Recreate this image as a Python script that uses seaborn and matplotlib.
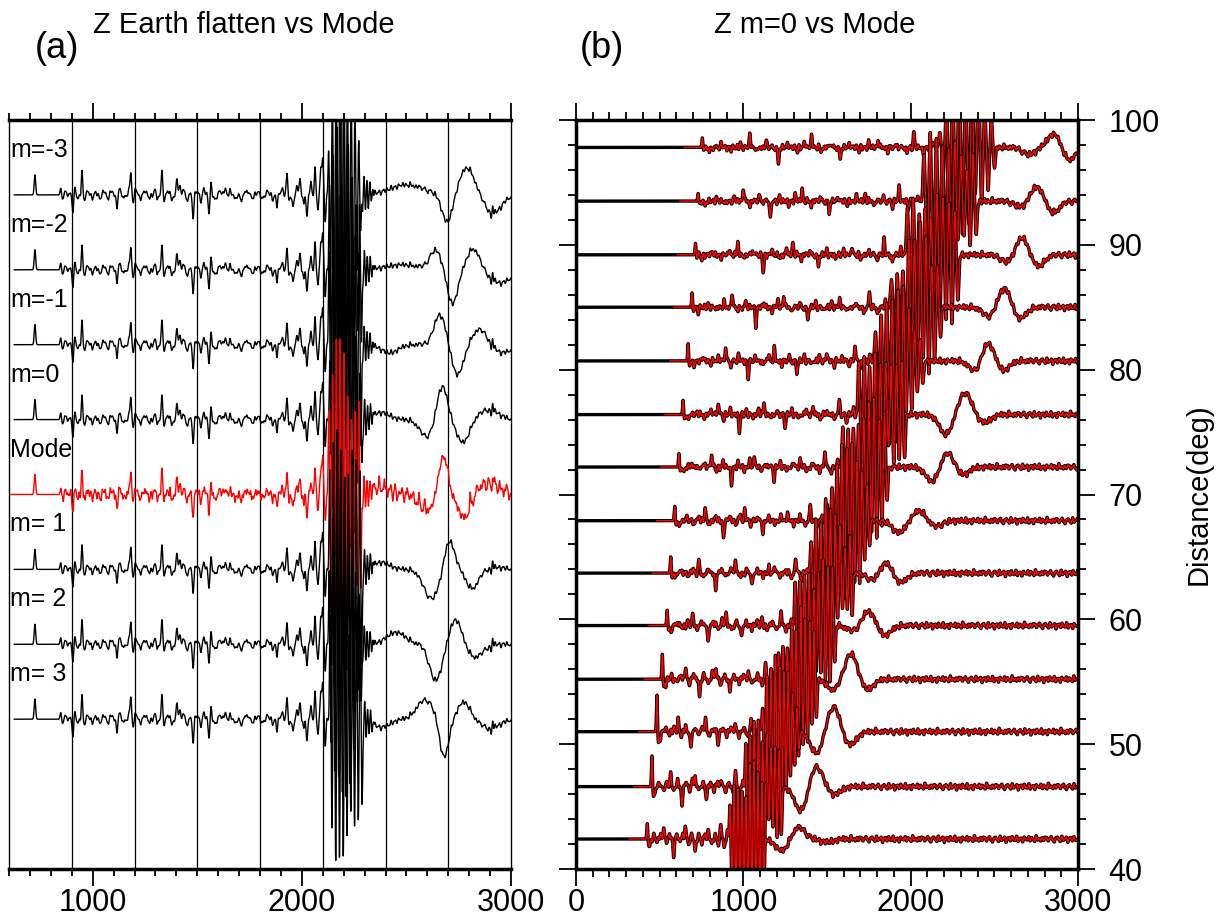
import numpy as np
import pandas as pd
import matplotlib
matplotlib.use("Agg")
import matplotlib.pyplot as plt
import seaborn as sns

# -----------------------------
# Panel (a): traces, offsets and features
# amplitudes are in screen pixels (converted below), times in s
# -----------------------------
a_labels = ["m=-3", "m=-2", "m=-1", "m=0", "Mode", "m= 1", "m= 2", "m= 3"]
a_offsets = [8, 7, 6, 5, 4, 3, 2, 1]
a_start = [624, 624, 624, 624, 600, 624, 624, 624]

# spikes / wiggles before the big surface-wave packet (shared by all traces)
a_ev_t = [724, 849, 856, 873, 905, 915, 930, 949, 958, 978, 997, 1016, 1035, 1054,
          1073, 1092, 1116, 1130, 1150, 1174, 1183, 1193, 1207, 1226, 1250, 1274,
          1298, 1312, 1331, 1341, 1360, 1379, 1403, 1417, 1432, 1451, 1480, 1499,
          1518, 1532, 1556, 1566, 1585, 1609, 1633, 1656, 1685, 1709, 1738, 1762,
          1790, 1814, 1838, 1862, 1881, 1905, 1929, 1943, 1958, 1977, 1991, 2010,
          2024, 2044, 2063, 2077, 2091, 2100, 2112]
a_ev_amp = [20, 8, -5, 4, -17, 5, -4, 25, -6, 4, -3, 3, -4, 4,
            -3, 4, -13, 5, -4, 6, 20, -6, 6, -3, 4, -3,
            5, -4, 25, -5, 5, -5, 17, 8, 5, -4, -22, 4,
            -5, 6, -18, 10, -5, 4, 6, 3, -4, -6, 6, -3,
            3, -4, 4, -4, -10, 6, 22, -6, -12, 10, 15, -10,
            -20, 12, 25, -15, 30, 35, -25]

# big surface-wave packet: half-cycle amplitudes (fraction of peak) and its timing
a_pkt_start, a_pkt_half, a_pkt_amp = 2128, 9.0, 150
a_pkt_shape = [0.3, 0.5, 0.7, 0.85, 1.0, 0.85, 1.1, 0.95, 1.0, 1.05, 0.8, 1.0,
               0.75, 0.9, 0.6, 0.5, 0.35, 0.25]
a_pkt_lag = [0, 4, 2, 6, 1, 5, 3, 7]
a_pkt_shift = [0, 3, 7, 1, 5, 9, 2, 6]
# fast ripple right after the packet
a_rip_t = [2290, 2297, 2304, 2311, 2318, 2325, 2332, 2339]
a_rip_amp = [-16, 17, -16, 15, -13, 11, -8, 5]

# long-period humps after the packet, one list per trace
a_lp_t = [[2500, 2695, 2790, 2915],
          [2480, 2640, 2720, 2820, 2950],
          [2420, 2660, 2745, 2850, 2960],
          [2380, 2598, 2670, 2770, 2895],
          [2380, 2600, 2675, 2775, 2900],
          [2380, 2620, 2705, 2815, 2930],
          [2450, 2640, 2735, 2830],
          [2380, 2590, 2680, 2775, 2900]]
a_lp_amp = [[10, -28, 27, -18],
            [5, 19, -34, 21, -13],
            [-8, 30, -30, 15, -8],
            [7, -17, 35, -23, 10],
            [7, -16, 39, -23, 11],
            [7, -29, 30, -19, 2],
            [12, -36, 25, -13],
            [-8, 19, -39, 17, -9]]
a_lp_w = [[80, 25, 35, 40],
          [80, 28, 25, 30, 50],
          [40, 28, 28, 35, 40],
          [40, 35, 25, 30, 45],
          [40, 35, 22, 28, 50],
          [40, 38, 25, 30, 40],
          [45, 30, 28, 35],
          [40, 40, 22, 30, 45]]
a_late_t = [2905, 2912]
a_late_amp = [-8, 8]

# extra high-frequency noise on the Mode trace tail
mode_noise_t = [2345, 2358, 2370, 2383, 2396, 2409, 2421, 2434, 2447, 2460, 2476, 2490,
                2503, 2518, 2531, 2546, 2560, 2574, 2588, 2700, 2714, 2790, 2805,
                2820, 2838, 2851, 2866, 2880, 2893, 2908, 2921, 2936, 2950, 2964, 2978, 2992]
mode_noise_amp = [6, -5, 7, -4, 5, -6, 4, -5, 6, -4, 5, -6, 7, -5, 4, -7, 6, -5, 8,
                  5, -6, -5, 6, -6, 5, -4, 7, -5, 6, -4, 5, -6, 4, -5, 6, -5]

# small background wiggle, in px, laid every few seconds along the traces
jitter = [1.5, -2.0, 0.5, 2.5, -1.0, -3.0, 1.0, 2.0, -0.5, -2.5, 3.0, -1.5, 0.0, 2.0,
          -3.5, 1.0, 1.5, -2.0, 2.5, -1.0, -1.5, 3.0, -2.5, 0.5, 1.0, -3.0, 2.0, 0.0,
          -1.0, 2.5, -2.0, 1.5, -0.5, -2.5, 3.5, -1.0, 0.5, -2.0, 1.5, -1.5, 2.0]

# -----------------------------
# Panel (b): one row per epicentral distance (deg)
# -----------------------------
b_dist = [97.8, 93.5, 89.2, 85.0, 80.7, 76.4, 72.2, 67.9, 63.7, 59.5, 55.2, 51.0, 46.6, 42.4]
b_p_time = [755, 730, 714, 694, 670, 640, 615, 590, 566, 545, 516, 484, 454, 426]
b_p_amp = [10, 8, 12, 15, 18, 15, 14, 15, 17, 16, 26, 38, 32, 16]
b_pkt_start = [2175, 2080, 1980, 1885, 1790, 1690, 1595, 1500, 1405, 1310, 1210, 1115, 1015, 920]
b_pkt_end = [2520, 2410, 2300, 2195, 2090, 1980, 1875, 1770, 1665, 1560, 1450, 1345, 1240, 1135]
b_pkt_amp = [80, 80, 80, 80, 80, 80, 80, 80, 80, 80, 80, 80, 80, 85]
b_pkt_shape = [0.2, 0.35, 0.55, 0.8, 0.6, 1.0, 0.85, 1.1, 0.7, 0.95, 1.0, 0.6, 0.85,
               0.7, 0.45, 0.55, 0.35, 0.25]
b_lp_t = [[2708, 2857, 2947], [2660, 2755, 2850], [2580, 2665, 2760], [2470, 2560, 2650],
          [2390, 2460, 2550], [2210, 2325, 2440], [2130, 2220, 2310], [1930, 2050, 2150],
          [1780, 1850, 1937], [1660, 1747, 1843], [1539, 1644, 1737], [1439, 1539, 1635],
          [1345, 1435, 1542], [1232, 1329, 1500]]
b_lp_amp = [[-7, 14, -13], [-6, 15, -12], [-8, 18, -12], [-10, 20, -12],
            [-12, 20, -10], [-20, 22, -8], [-15, 15, -8], [-12, 10, -6],
            [-8, 12, -10], [-6, 15, -10], [-11, 26, -11], [-22, 26, -14],
            [-25, 21, -8], [-12, 12, -3]]

# coda between P and the packet: position as a fraction of that interval, amplitude (px)
coda_frac = [0.03, 0.08, 0.12, 0.16, 0.20, 0.23, 0.27, 0.32, 0.36, 0.40, 0.43, 0.46, 0.50,
             0.54, 0.58, 0.62, 0.66, 0.70, 0.74, 0.78, 0.82, 0.86, 0.89, 0.93, 0.97]
coda_amp = [-6, 4, -3, 5, 13, -5, 6, -18, 5, -4, 7, 12, -5,
            4, -13, 5, -4, 6, 8, -5, 4, -6, 15, -8, 6]


def bump(t, t0, w):
    return np.exp(-0.5 * ((t - t0) / w) ** 2)


def add_jitter(t, y, t_from, step, w, scale, shift):
    for k, t0 in enumerate(np.arange(t_from, t[-1], step)):
        y += scale * jitter[(k + shift) % len(jitter)] * bump(t, t0, w)


# -----------------------------
# Figure
# -----------------------------
sns.set_style("ticks")
plt.rcParams['font.family'] = ['Liberation Sans', 'DejaVu Sans']
plt.rcParams.update({'text.color': 'black', 'axes.edgecolor': 'black',
                     'xtick.color': 'black', 'ytick.color': 'black',
                     'axes.labelcolor': 'black'})

W, H = 1225, 922
fig = plt.figure(figsize=(W / 100, H / 100), dpi=100)
ax_a = fig.add_axes([9 / W, 1 - 869 / H, 502 / W, 749 / H])
ax_b = fig.add_axes([576 / W, 1 - 869 / H, 502 / W, 749 / H])

# ---- panel (a)
px_a = 74.8
t_a = np.arange(600, 3001, 1.0)
for x in range(900, 3000, 300):
    ax_a.axvline(x, color='k', lw=0.9, zorder=0)

for i, lab in enumerate(a_labels):
    y = np.zeros_like(t_a)
    for t0, amp in zip(a_ev_t, a_ev_amp):
        y += amp * bump(t_a, t0, 3.5 if abs(amp) >= 8 else 5.0)
    for k, f in enumerate(a_pkt_shape):
        sgn = 1 if k % 2 == 0 else -1
        f2 = a_pkt_shape[(k + a_pkt_shift[i]) % len(a_pkt_shape)]
        y += sgn * a_pkt_amp * 0.5 * (f + f2) * \
            bump(t_a, a_pkt_start + a_pkt_lag[i] + k * a_pkt_half, 2.6)
    for t0, amp in zip(a_rip_t, a_rip_amp):
        y += amp * bump(t_a, t0 + 0.5 * a_pkt_lag[i], 2.0)
    for t0, amp, w in zip(a_lp_t[i], a_lp_amp[i], a_lp_w[i]):
        y += amp * bump(t_a, t0, w)
    for t0, amp in zip(a_late_t, a_late_amp):
        y += amp * bump(t_a, t0, 3.0)
    add_jitter(t_a, y, 845, 7.0, 2.5, 1.0, 0)
    if lab == "Mode":
        for t0, amp in zip(mode_noise_t, mode_noise_amp):
            y += amp * bump(t_a, t0, 3.0)
        add_jitter(t_a, y, 845, 5.0, 1.6, 1.2, 11)
    y = a_offsets[i] + y / px_a
    y[t_a < a_start[i]] = np.nan
    sns.lineplot(x=t_a, y=y, ax=ax_a, color='red' if lab == "Mode" else 'black',
                 lw=1.0, estimator=None, sort=False)
    ax_a.text(605, a_offsets[i] + 0.6, lab, fontsize=18, va='center', ha='left')

ax_a.set_xlim(600, 3000)
ax_a.set_ylim(-1, 9)
ax_a.set_xticks([1000, 2000, 3000])
ax_a.set_xticks(np.arange(600, 3001, 100), minor=True)
ax_a.set_yticks([])
ax_a.tick_params(axis='x', which='both', direction='out', top=True, bottom=True,
                 labelsize=22, pad=2)
ax_a.tick_params(axis='x', which='major', length=12, width=1.3)
ax_a.tick_params(axis='x', which='minor', length=5, width=1.3)
for s in ['top', 'bottom']:
    ax_a.spines[s].set_linewidth(2.5)
for s in ['left', 'right']:
    ax_a.spines[s].set_linewidth(1.0)

# ---- panel (b)
px_b = 12.48
t_b = np.arange(0, 3001, 1.0)
for i, d in enumerate(b_dist):
    P = b_p_time[i]
    y = b_p_amp[i] * bump(t_b, P, 3.0) - 0.3 * b_p_amp[i] * bump(t_b, P + 8, 4.0)
    for f, amp in zip(coda_frac, coda_amp):
        y += amp * bump(t_b, P + f * (b_pkt_start[i] - P), 4.0)
    half = (b_pkt_end[i] - b_pkt_start[i]) / len(b_pkt_shape)
    for k, f in enumerate(b_pkt_shape):
        sgn = 1 if k % 2 == 0 else -1
        f2 = b_pkt_shape[(k + 5 * i) % len(b_pkt_shape)]
        y += sgn * b_pkt_amp[i] * 0.5 * (f + f2) * \
            bump(t_b, b_pkt_start[i] + k * half, 0.3 * half)
    for t0, amp in zip(b_lp_t[i], b_lp_amp[i]):
        y += amp * bump(t_b, t0, 38)
    add_jitter(t_b, y, P + 20, 9.0, 3.0, 1.0, 5 * i)
    y = d + y / px_b
    sns.lineplot(x=t_b, y=y, ax=ax_b, color='black', lw=2.4, estimator=None, sort=False)
    yr = y.copy()
    yr[t_b < P - 110] = np.nan
    sns.lineplot(x=t_b, y=yr, ax=ax_b, color='red', lw=1.0, estimator=None, sort=False)

ax_b.set_xlim(0, 3000)
ax_b.set_ylim(40, 100)
ax_b.set_xticks([0, 1000, 2000, 3000])
ax_b.set_xticks(np.arange(0, 3001, 100), minor=True)
ax_b.set_yticks(np.arange(40, 101, 10))
ax_b.set_yticks(np.arange(40, 101, 2), minor=True)
ax_b.tick_params(which='both', direction='out', top=True, bottom=True, left=True,
                 right=True, labelleft=False, labelright=True, labelsize=22)
ax_b.tick_params(which='major', length=12, width=1.3)
ax_b.tick_params(which='minor', length=6, width=1.3)
ax_b.tick_params(axis='x', pad=2)
ax_b.tick_params(axis='y', pad=10)
for s in ax_b.spines.values():
    s.set_linewidth(2.5)
ax_b.yaxis.set_label_position('right')
ax_b.set_ylabel("Distance(deg)", fontsize=21, labelpad=18)
ax_b.set_xlabel("")

# panel letters and titles
fig.text(57 / W, 1 - 48 / H, "(a)", fontsize=26, ha='center', va='center')
fig.text(93 / W, 1 - 33 / H, "Z Earth flatten vs Mode", fontsize=21, ha='left', va='baseline')
fig.text(602 / W, 1 - 48 / H, "(b)", fontsize=26, ha='center', va='center')
fig.text(714 / W, 1 - 33 / H, "Z m=0 vs Mode", fontsize=21, ha='left', va='baseline')

fig.savefig("out.png", dpi=100)
